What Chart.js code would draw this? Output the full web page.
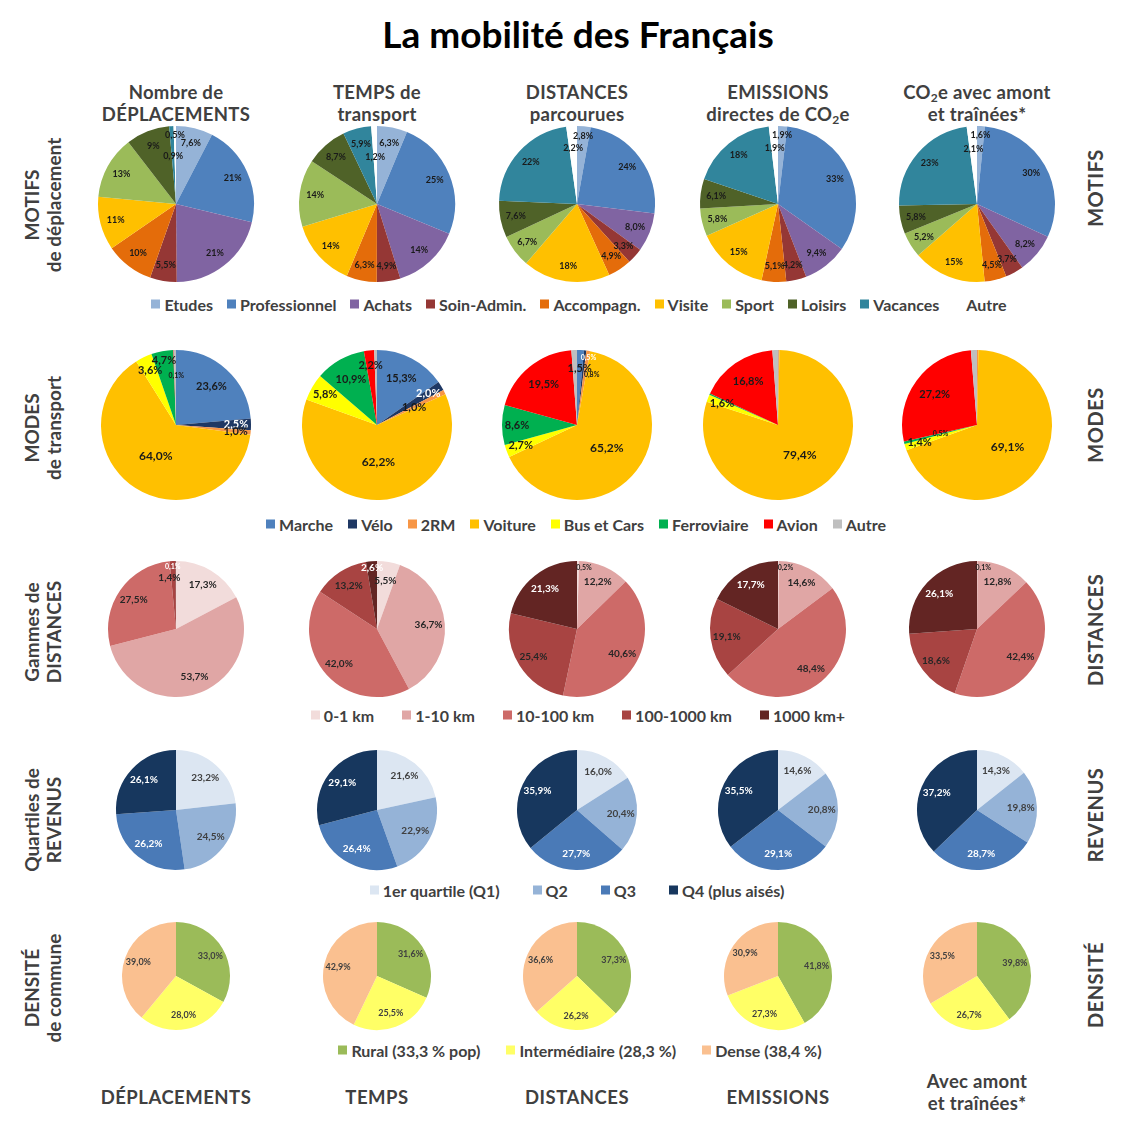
<!DOCTYPE html>
<html lang="fr">
<head>
<meta charset="utf-8">
<title>La mobilité des Français</title>
<script src="https://cdn.jsdelivr.net/npm/chart.js@4.4.1/dist/chart.umd.min.js"></script>
<style>
  html, body { margin:0; padding:0; background:#fff; }
  #page { position:relative; width:1125px; height:1125px; overflow:hidden; font-family: Lato, "Open Sans", sans-serif; color:#404040; }
  .t { position:absolute; transform:translate(-50%,-50%); white-space:nowrap; font-weight:700; text-align:center; line-height:1; }
  .rot { transform:translate(-50%,-50%) rotate(-90deg); }
  canvas { position:absolute; }
  .legend { position:absolute; left:0; width:1125px; display:flex; justify-content:center; align-items:center; font-size:16px; font-weight:700; color:#404040; transform:translateY(-50%); }
  .legend span.item { display:inline-flex; align-items:center; }
  .legend span.item:last-child { margin-right:0 !important; }
  .legend i { display:inline-block; width:9px; height:9px; margin-right:4px; }
  sub { font-size:0.65em; vertical-align:-0.25em; line-height:0; }
</style>
</head>
<body>
<div id="page"></div>
<script>
// ---------------- DATA ----------------
const motifCategories = ['Etudes','Professionnel','Achats','Soin-Admin.','Accompagn.','Visite','Sport','Loisirs','Vacances','Autre'];
const motifDeplacements = [7.6, 21, 21, 5.5, 10, 11, 13, 9, 0.9, 0.5];
const motifTemps        = [6.3, 25, 14, 4.9, 6.3, 14, 14, 8.7, 5.9, 1.2];
const motifDistances    = [2.8, 24, 8, 3.3, 4.9, 18, 6.7, 7.6, 22, 2.2];
const motifEmissions    = [1.9, 33, 9.4, 4.2, 5.1, 15, 5.8, 6.1, 18, 1.9];
const motifAmont        = [1.6, 30, 8.2, 3.7, 4.5, 15, 5.2, 5.8, 23, 2.1];

const modeCategories = ['Marche','Vélo','2RM','Voiture','Bus et Cars','Ferroviaire','Avion','Autre'];
const modeDeplacements = [23.6, 2.5, 1.0, 64.0, 3.6, 4.7, 0.1, 0.5];
const modeTemps        = [15.3, 2.0, 1.0, 62.2, 5.8, 10.9, 2.2, 0.6];
const modeDistances    = [1.5, 0.5, 0.8, 65.2, 2.7, 8.6, 19.5, 1.2];
const modeEmissions    = [0.1, 0.0, 0.2, 79.4, 1.6, 0.3, 16.8, 1.2];
const modeAmont        = [0.0, 0.0, 0.3, 69.1, 1.4, 0.5, 27.2, 1.3];

const distCategories = ['0-1 km','1-10 km','10-100 km','100-1000 km','1000 km+'];
const distDeplacements = [17.3, 53.7, 27.5, 1.4, 0.1];
const distTemps        = [5.5, 36.7, 42.0, 13.2, 2.6];
const distDistances    = [0.5, 12.2, 40.6, 25.4, 21.3];
const distEmissions    = [0.2, 14.6, 48.4, 19.1, 17.7];
const distAmont        = [0.1, 12.8, 42.4, 18.6, 26.1];

const revCategories = ['1er quartile (Q1)','Q2','Q3','Q4 (plus aisés)'];
const revDeplacements = [23.2, 24.5, 26.2, 26.1];
const revTemps        = [21.6, 22.9, 26.4, 29.1];
const revDistances    = [16.0, 20.4, 27.7, 35.9];
const revEmissions    = [14.6, 20.8, 29.1, 35.5];
const revAmont        = [14.3, 19.8, 28.7, 37.2];

const densCategories = ['Rural (33,3 % pop)','Intermédiaire (28,3 %)','Dense (38,4 %)'];
const densDeplacements = [33.0, 28.0, 39.0];
const densTemps        = [31.6, 25.5, 42.9];
const densDistances    = [37.3, 26.2, 36.6];
const densEmissions    = [41.8, 27.3, 30.9];
const densAmont        = [39.8, 26.7, 33.5];

// ---------------- STYLE ----------------
const motifColors = ['#95B3D7','#4F81BD','#8064A2','#953735','#E46C0A','#FFC000','#9BBB59','#4F6228','#31859C','#FFFFFF'];
const modeColors  = ['#4F81BD','#1F3864','#F79646','#FFC000','#FFFF00','#00B050','#FF0000','#BFBFBF'];
const distColors  = ['#F2DCDB','#E0A6A5','#CD6A68','#A84442','#632523'];
const revColors   = ['#DCE6F2','#95B3D7','#4A7AB7','#17375E'];
const densColors  = ['#9BBB59','#FFFF66','#FAC090'];

const page = document.getElementById('page');
function txt(html, x, y, size, extra) {
  const d = document.createElement('div');
  d.className = 't' + (extra && extra.rot ? ' rot' : '');
  d.style.left = x + 'px'; d.style.top = y + 'px';
  d.style.fontSize = size + 'px';
  if (extra && extra.color) d.style.color = extra.color;
  if (extra && extra.ls) d.style.letterSpacing = extra.ls + 'px';
  d.innerHTML = html;
  page.appendChild(d);
}
function legend(cats, colors, y, gap, cx) {
  const d = document.createElement('div');
  d.className = 'legend';
  d.style.top = y + 'px';
  d.style.left = (cx - 562.5) + 'px';
  d.innerHTML = cats.map((c, i) => `<span class="item" style="margin-right:${gap}px"><i style="background:${colors[i]}"></i>${c}</span>`).join('');
  page.appendChild(d);
}

const fmt1 = v => v.toFixed(1).replace('.', ',') + '%';
const fmtMotif = v => (Number.isInteger(v) && v >= 9) ? v + '%' : fmt1(v);

const pieLabels = {
  id: 'pieLabels',
  afterDatasetsDraw(chart, args, o) {
    if (!o || !o.format) return;
    const ctx = chart.ctx;
    const meta = chart.getDatasetMeta(0);
    const data = chart.data.datasets[0].data;
    ctx.save();
    ctx.textAlign = 'center';
    ctx.textBaseline = 'middle';
    meta.data.forEach((arc, i) => {
      const v = data[i];
      if (!v || (o.hide && o.hide.includes(i))) return;
      const p = arc.getProps(['x','y','startAngle','endAngle','outerRadius'], true);
      const mid = (p.startAngle + p.endAngle) / 2;
      let ov = o.over ? o.over[i] : undefined;
      if (typeof ov === 'number') ov = { f: ov };
      ov = ov || {};
      const f = ov.f !== undefined ? ov.f : o.radius(v, i);
      ctx.font = `bold ${o.size(v, i)}px Lato, "Open Sans", sans-serif`;
      ctx.fillStyle = o.color(v, i);
      ctx.fillText(o.format(v),
        p.x + Math.cos(mid) * p.outerRadius * f + (ov.dx || 0),
        p.y + Math.sin(mid) * p.outerRadius * f + (ov.dy || 0));
    });
    ctx.restore();
  }
};

function pie(cx, cy, r, values, labels, colors, lab) {
  const pad = 4;
  const c = document.createElement('canvas');
  const s = 2 * (r + pad);
  c.width = s; c.height = s;
  c.style.width = s + 'px'; c.style.height = s + 'px';
  c.style.left = (cx - r - pad) + 'px'; c.style.top = (cy - r - pad) + 'px';
  page.appendChild(c);
  new Chart(c, {
    type: 'pie',
    data: { labels: labels, datasets: [{ data: values, backgroundColor: colors, borderWidth: 0 }] },
    options: {
      responsive: false, animation: false,
      layout: { padding: pad },
      plugins: { legend: { display: false }, tooltip: { enabled: false }, pieLabels: lab }
    },
    plugins: [pieLabels]
  });
}

const colX = [176, 377, 577, 778, 977];

// Title & headers
txt('La mobilité des Français', 578, 33, 37, { color: '#000' });
const head1 = ['Nombre de', 'TEMPS de', 'DISTANCES', 'EMISSIONS', 'CO<sub>2</sub>e avec amont'];
const head2 = ['DÉPLACEMENTS', 'transport', 'parcourues', 'directes de CO<sub>2</sub>e', 'et traînées*'];
head1.forEach((h, i) => txt(h, colX[i], 92, 18.5, { ls: 0.3 }));
head2.forEach((h, i) => txt(h, colX[i], 114, 18.5, { ls: 0.3 }));

// Row 1: motifs
const motifSets = [motifDeplacements, motifTemps, motifDistances, motifEmissions, motifAmont];
const motifOver = [{8:0.62, 9:0.88}, {9:0.6}, {0:0.88, 9:0.72}, {0:0.88, 9:0.72}, {0:0.88, 9:0.7}];
motifSets.forEach((vals, k) => pie(colX[k], 204, 78, vals, motifCategories, motifColors, {
  format: fmtMotif, radius: () => 0.8, size: () => 9, color: () => '#1a1a1a', over: motifOver[k]
}));
legend(motifCategories, motifColors, 304, 14, 579);

// Row 2: modes
const modeSets = [modeDeplacements, modeTemps, modeDistances, modeEmissions, modeAmont];
const modeHide = [[7], [7], [7], [0,1,2,5,7], [0,1,2,7]];
const modeOver = [
  {5:0.87, 6:{f:0.66, dx:2}},
  {2:0.55},
  {0:0.76, 1:{f:0.9, dx:4}, 2:{f:0.68, dx:7}},
  {},
  {5:0.5}
];
modeSets.forEach((vals, k) => pie(colX[k], 425, 75, vals, modeCategories, modeColors, {
  format: fmt1,
  radius: v => v >= 50 ? 0.5 : (v >= 10 ? 0.7 : 0.8),
  size: v => v < 1 ? 7 : (v >= 50 ? 12 : 11),
  color: (v, i) => i === 1 ? '#ffffff' : '#1a1a1a',
  hide: modeHide[k], over: modeOver[k]
}));
legend(modeCategories, modeColors, 524, 15, 576);

// Row 3: distances
const distSets = [distDeplacements, distTemps, distDistances, distEmissions, distAmont];
const distOver = [
  {3:{f:0.75, dx:-4}, 4:{f:0.91, dx:-3}},
  {4:0.9, 0:0.72},
  {0:{f:0.9, dx:6}},
  {0:{f:0.9, dx:7}},
  {0:{f:0.9, dx:6}}
];
distSets.forEach((vals, k) => pie(colX[k], 629, 68, vals, distCategories, distColors, {
  format: fmt1,
  radius: v => v < 1 ? 0.9 : 0.76,
  size: v => v < 1 ? 7 : 10,
  color: (v, i) => i === 4 ? '#ffffff' : '#262626',
  over: distOver[k]
}));
legend(distCategories, distColors, 715, 28, 578);

// Row 4: revenus
const revSets = [revDeplacements, revTemps, revDistances, revEmissions, revAmont];
revSets.forEach((vals, k) => pie(colX[k], 810, 60, vals, revCategories, revColors, {
  format: fmt1, radius: () => 0.73, size: () => 10,
  color: (v, i) => i >= 2 ? '#ffffff' : '#404040'
}));
legend(revCategories, revColors, 890, 33, 577);

// Row 5: densité
const densSets = [densDeplacements, densTemps, densDistances, densEmissions, densAmont];
densSets.forEach((vals, k) => pie(colX[k], 976, 54, vals, densCategories, densColors, {
  format: fmt1, radius: () => 0.74, size: () => 9, color: () => '#404040'
}));
legend(densCategories, densColors, 1050, 26, 580);

// Row labels (left)
const leftA = ['MOTIFS', 'MODES', 'Gammes de', 'Quartiles de', 'DENSITÉ'];
const leftB = ['de déplacement', 'de transport', 'DISTANCES', 'REVENUS', 'de commune'];
const leftY = [205, 428, 632, 820, 988];
leftA.forEach((t, i) => txt(t, 31, leftY[i], 19, { rot: true }));
leftB.forEach((t, i) => txt(t, 53, leftY[i], 19, { rot: true }));

// Row labels (right)
const rightT = ['MOTIFS', 'MODES', 'DISTANCES', 'REVENUS', 'DENSITÉ'];
const rightY = [188, 425, 630, 815, 985];
rightT.forEach((t, i) => txt(t, 1095, rightY[i], 20, { rot: true, ls: 0.5 }));

// Bottom labels
const bottomT = ['DÉPLACEMENTS', 'TEMPS', 'DISTANCES', 'EMISSIONS'];
bottomT.forEach((t, i) => txt(t, colX[i], 1097, 18.5, { ls: 0.5 }));
txt('Avec amont', colX[4], 1081, 18.5, { ls: 0.3 });
txt('et traînées*', colX[4], 1103, 18.5, { ls: 0.3 });
</script>
</body>
</html>
